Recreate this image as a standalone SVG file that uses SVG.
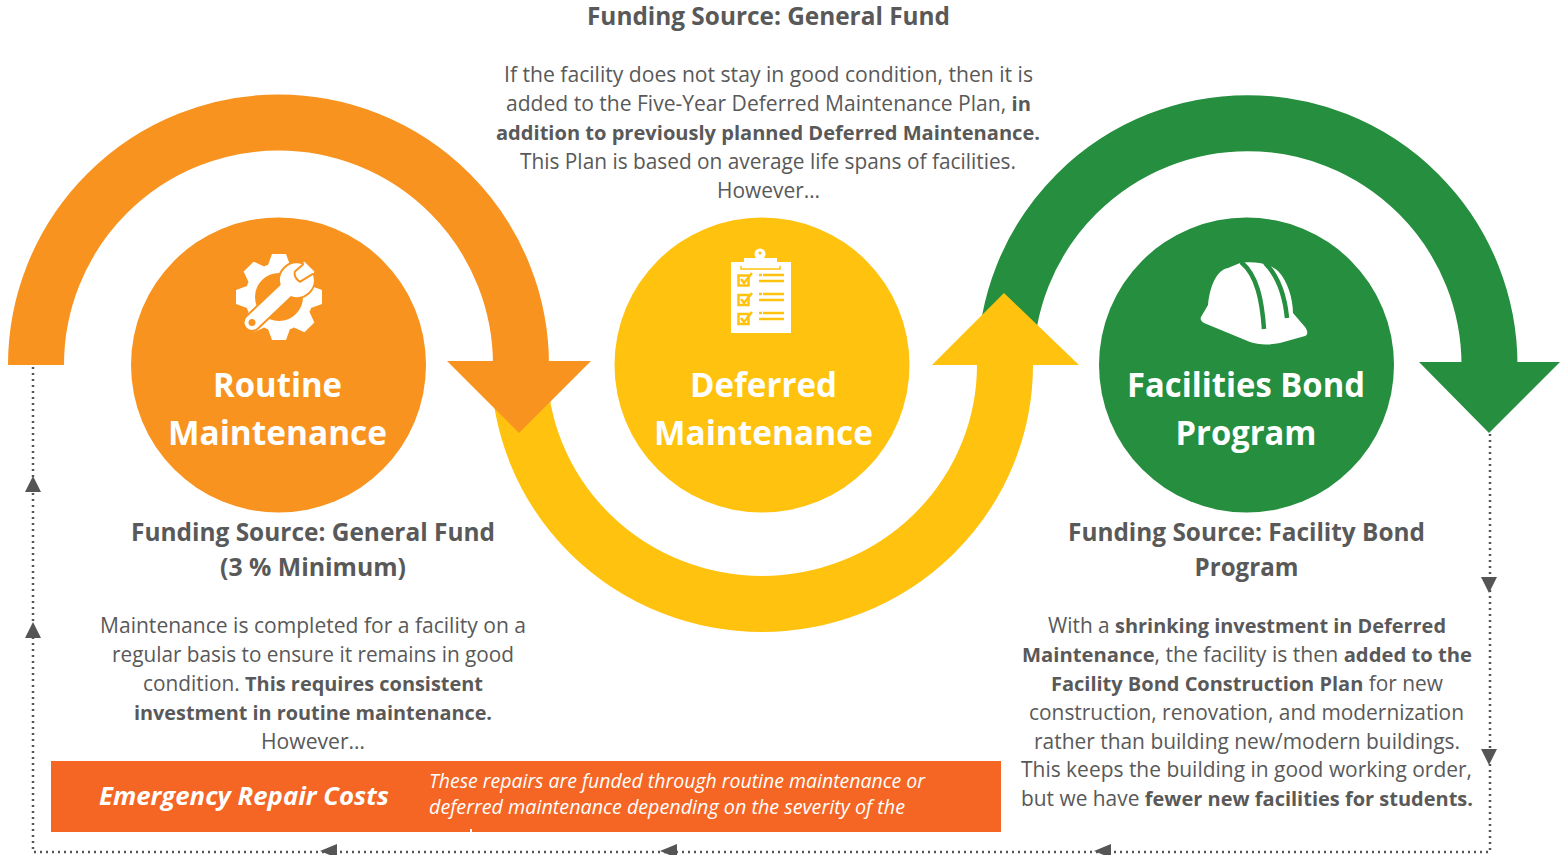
<svg xmlns="http://www.w3.org/2000/svg" width="1560" height="855" viewBox="0 0 1560 855">
<style>
text{font-family:"Open Sans","Liberation Sans",sans-serif;text-anchor:middle;fill:#595959}
.h{font-size:24.2px;font-weight:700}
.b{font-size:21.1px}
.b tspan{font-weight:700;font-size:20.2px}
.c{font-size:33.3px;font-weight:700;fill:#fff}
.e{font-style:italic;fill:#fff}
.dot{fill:none;stroke:#555;stroke-width:2.5;stroke-dasharray:2 4}
.ah{fill:#555}
.ol{fill:none;stroke-width:56}
</style>
<defs>
<polygon id="tooth" points="-11,-32 -7,-43 7,-43 11,-32" fill="#fff"/>
<polygon id="up" class="ah" points="0,-8 8,8 -8,8"/>
<polygon id="down" class="ah" points="-8,-8 8,-8 0,8"/>
<polygon id="left" class="ah" points="-9,0 8,-7 8,7"/>
</defs>
<rect width="1560" height="855" fill="#fff"/>
<g id="connectors">
<path class="dot" d="M33,367V852H1490V433"/>
<use href="#up" x="33" y="484"/>
<use href="#up" x="33" y="630"/>
<use href="#down" x="1489" y="585"/>
<use href="#down" x="1489" y="757"/>
<use href="#left" x="329" y="851"/>
<use href="#left" x="669" y="851"/>
<use href="#left" x="1103" y="851"/>
<path class="ol" stroke="#258E3F" d="M1005.500,365A242,242 0 0 1 1489.500,365"/>
<polygon fill="#258E3F" points="1419,362 1560,362 1489,433"/>
<path class="ol" stroke="#FFC20E" d="M519,365A243,239 0 0 0 1005,365"/>
<polygon fill="#FFC20E" points="932,365 1079,365 1004,293"/>
<path class="ol" stroke="#F7931E" d="M36,365A242.500,242.500 0 0 1 521,365"/>
<polygon fill="#F7931E" points="447,361 591,361 519,433"/>
</g>
<g id="routine-maintenance">
<circle cx="278.500" cy="365" r="147.500" fill="#F7931E"/>
<g transform="translate(279,297)">
<circle r="34" fill="#fff"/>
<use href="#tooth"/><use href="#tooth" transform="rotate(45)"/><use href="#tooth" transform="rotate(90)"/><use href="#tooth" transform="rotate(135)"/><use href="#tooth" transform="rotate(180)"/><use href="#tooth" transform="rotate(225)"/><use href="#tooth" transform="rotate(270)"/><use href="#tooth" transform="rotate(315)"/>
<circle r="24" fill="#F7931E"/>
</g>
<path d="M302,264L294,271Q292,278 300,283L313,275A17,17 0 0 1 290.900,296L257.100,328A7.500,7.500 0 0 1 246.900,317L280.700,285A17,17 0 0 1 302,264Z" fill="#fff" stroke="#F7931E" stroke-width="4" stroke-linejoin="round" paint-order="stroke"/>
<circle cx="252" cy="322.500" r="3.500" fill="#F7931E"/>
<text class="c" x="277.500" y="397" textLength="129" lengthAdjust="spacingAndGlyphs">Routine</text>
<text class="c" x="277.500" y="445" textLength="219" lengthAdjust="spacingAndGlyphs">Maintenance</text>
<text class="h" x="313" y="541" textLength="364" lengthAdjust="spacingAndGlyphs">Funding Source: General Fund</text>
<text class="h" x="313" y="576" textLength="186" lengthAdjust="spacingAndGlyphs">(3 % Minimum)</text>
<text class="b" x="313" y="633" textLength="426" lengthAdjust="spacingAndGlyphs">Maintenance is completed for a facility on a</text>
<text class="b" x="313" y="662" textLength="402" lengthAdjust="spacingAndGlyphs">regular basis to ensure it remains in good</text>
<text class="b" x="313" y="691" textLength="340" lengthAdjust="spacingAndGlyphs">condition. <tspan>This requires consistent</tspan></text>
<text class="b" x="313" y="720" textLength="358" lengthAdjust="spacingAndGlyphs"><tspan>investment in routine maintenance.</tspan></text>
<text class="b" x="313" y="749" textLength="104" lengthAdjust="spacingAndGlyphs">However…</text>
</g>
<g id="deferred-maintenance">
<circle cx="762" cy="365" r="147.500" fill="#FFC20E"/>
<g fill="#fff">
<rect x="731" y="262" width="60" height="71"/>
<rect x="744" y="258" width="33" height="8"/>
<circle cx="760" cy="254" r="5.500"/>
</g>
<circle cx="760" cy="253" r="1.500" fill="#FFC20E"/>
<path d="M741,266V269H780V266" fill="none" stroke="#FFC20E" stroke-width="1.500"/>
<g fill="none" stroke="#FFC20E" stroke-width="2.500">
<rect x="738.500" y="275.500" width="10" height="10"/><path d="M741,279L744,283L752,273M759,281H784M763,275H784M759,275H762"/>
<rect x="738.500" y="295" width="10" height="10"/><path d="M741,299L744,303L752,293M759,300H784M763,294H784M759,294H762"/>
<rect x="738.500" y="314" width="10" height="10"/><path d="M741,318L744,322L752,312M759,319H784M763,313H784M759,313H762"/>
</g>
<text class="c" x="763.500" y="397" textLength="147" lengthAdjust="spacingAndGlyphs">Deferred</text>
<text class="c" x="763.500" y="445" textLength="219" lengthAdjust="spacingAndGlyphs">Maintenance</text>
</g>
<g id="facilities-bond-program">
<circle cx="1246.500" cy="365" r="147.500" fill="#258E3F"/>
<path d="M1201,317L1208,305C1210,285 1217,270 1228,268L1240,263C1250,261 1268,262 1278,271C1287,280 1293,298 1293,313L1305,327C1308,331 1308,335 1305,336L1280,343C1270,345 1258,345 1250,342L1204,323C1201,321 1200,319 1201,317Z" fill="#fff"/>
<path d="M1241,262C1257,275 1262,300 1264,329M1265,263C1279,277 1285,298 1287,318" fill="none" stroke="#258E3F" stroke-width="4.500"/>
<text class="c" x="1246" y="397" textLength="238" lengthAdjust="spacingAndGlyphs">Facilities Bond</text>
<text class="c" x="1246" y="445" textLength="141" lengthAdjust="spacingAndGlyphs">Program</text>
<text class="h" x="1246.500" y="541" textLength="357" lengthAdjust="spacingAndGlyphs">Funding Source: Facility Bond</text>
<text class="h" x="1246.500" y="576" textLength="104" lengthAdjust="spacingAndGlyphs">Program</text>
<text class="b" x="1247" y="633" textLength="398" lengthAdjust="spacingAndGlyphs">With a <tspan>shrinking investment in Deferred</tspan></text>
<text class="b" x="1247" y="662" textLength="450" lengthAdjust="spacingAndGlyphs"><tspan>Maintenance</tspan>, the facility is then <tspan>added to the</tspan></text>
<text class="b" x="1247" y="691" textLength="392" lengthAdjust="spacingAndGlyphs"><tspan>Facility Bond Construction Plan</tspan> for new</text>
<text class="b" x="1246.500" y="720" textLength="435" lengthAdjust="spacingAndGlyphs">construction, renovation, and modernization</text>
<text class="b" x="1247" y="749" textLength="426" lengthAdjust="spacingAndGlyphs">rather than building new/modern buildings.</text>
<text class="b" x="1246.500" y="777" textLength="451" lengthAdjust="spacingAndGlyphs">This keeps the building in good working order,</text>
<text class="b" x="1247" y="806" textLength="452" lengthAdjust="spacingAndGlyphs">but we have <tspan>fewer new facilities for students.</tspan></text>
</g>
<g id="general-fund-note">
<text class="h" x="768.500" y="25" textLength="363" lengthAdjust="spacingAndGlyphs">Funding Source: General Fund</text>
<text class="b" x="768.500" y="82" textLength="529" lengthAdjust="spacingAndGlyphs">If the facility does not stay in good condition, then it is</text>
<text class="b" x="768.500" y="111" textLength="525" lengthAdjust="spacingAndGlyphs">added to the Five-Year Deferred Maintenance Plan, <tspan>in</tspan></text>
<text class="b" x="768" y="140" textLength="544" lengthAdjust="spacingAndGlyphs"><tspan>addition to previously planned Deferred Maintenance.</tspan></text>
<text class="b" x="768" y="169" textLength="496" lengthAdjust="spacingAndGlyphs">This Plan is based on average life spans of facilities.</text>
<text class="b" x="768.500" y="198" textLength="103" lengthAdjust="spacingAndGlyphs">However…</text>
</g>
<g id="emergency-repair-costs">
<rect x="51" y="761" width="950" height="71" fill="#F56624"/>
<rect x="470" y="829" width="2" height="3" fill="#fff"/>
<text class="e" x="244" y="805" font-size="25.800" font-weight="700" textLength="290" lengthAdjust="spacingAndGlyphs">Emergency Repair Costs</text>
<text class="e" x="429" y="788" font-size="19.500" style="text-anchor:start" textLength="496" lengthAdjust="spacingAndGlyphs">These repairs are funded through routine maintenance or</text>
<text class="e" x="429" y="814" font-size="19.500" style="text-anchor:start" textLength="476" lengthAdjust="spacingAndGlyphs">deferred maintenance depending on the severity of the</text>
</g>
</svg>
